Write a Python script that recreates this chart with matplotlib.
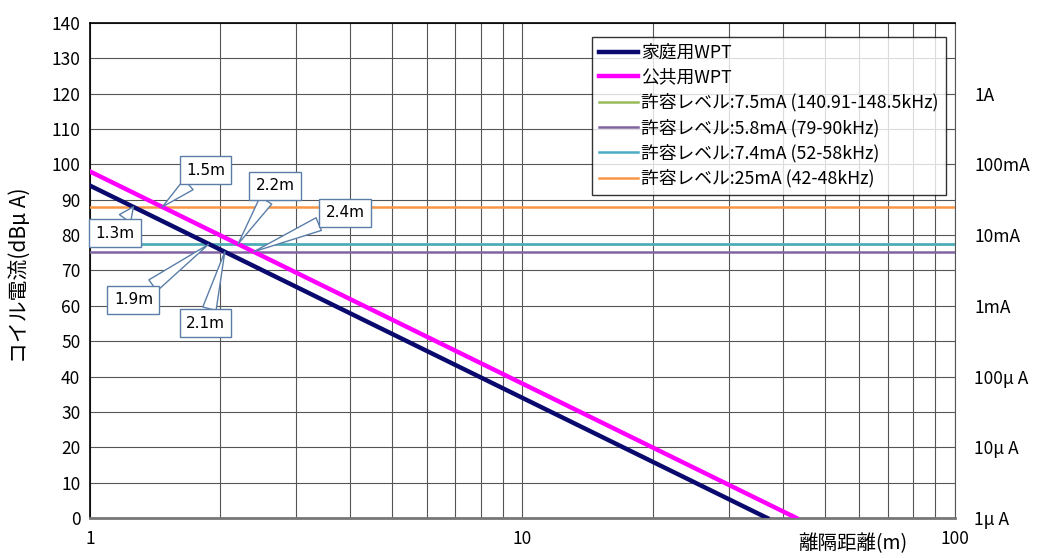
import numpy as np
import matplotlib
matplotlib.use("Agg")
import matplotlib.pyplot as plt
from matplotlib.ticker import FixedLocator, NullFormatter

plt.rcParams['font.family'] = ['Noto Sans CJK JP', 'DejaVu Sans']

# coil current lines (dBuA) vs distance (m): end points
home_d = [1.0, 36.8]
home_db = [94.0, 0.0]
public_d = [1.0, 43.0]
public_db = [98.0, 0.0]

# allowed levels (dBuA)
level_names = ['許容レベル:7.5mA (140.91-148.5kHz)', '許容レベル:5.8mA (79-90kHz)',
               '許容レベル:7.4mA (52-58kHz)', '許容レベル:25mA (42-48kHz)']
level_db = [77.5, 75.3, 77.4, 88.0]
level_colors = ['#9bbb59', '#8064a2', '#4bacc6', '#f79646']

# callouts: label, point (d, dB), box position (d, dB)
call_labels = ['1.5m', '2.2m', '2.4m', '1.3m', '1.9m', '2.1m']
call_pts = [(1.47, 88.0), (2.2, 77.5), (2.39, 75.3), (1.26, 88.0), (1.88, 77.4), (2.05, 75.3)]
call_box = [(1.85, 98.4), (2.68, 93.9), (3.89, 86.3), (1.14, 80.6), (1.26, 61.7), (1.85, 55.1)]

right_vals = [0, 20, 40, 60, 80, 100, 120]
right_labels = ['1μ A', '10μ A', '100μ A', '1mA', '10mA', '100mA', '1A']

fig = plt.figure(figsize=(10.37, 5.58), dpi=100)
ax = fig.add_axes([0.0868, 0.0717, 0.834, 0.8871])

ax.set_xscale('log')
ax.set_xlim(1, 100)
ax.set_ylim(0, 140)
ax.set_yticks(np.arange(0, 141, 10))
ax.xaxis.set_major_locator(FixedLocator([1, 10, 100]))
ax.set_xticklabels(['1', '10', '100'])
ax.xaxis.set_minor_locator(FixedLocator([k * m for m in (1, 10) for k in range(2, 10)]))
ax.xaxis.set_minor_formatter(NullFormatter())
ax.grid(True, which='both', axis='x', color='#555555', lw=0.8)
ax.grid(True, which='major', axis='y', color='#555555', lw=0.8)
ax.tick_params(which='both', length=0, labelsize=12.5, pad=7)
ax.tick_params(axis='x', pad=9)
for s in ['top', 'left']:
    ax.spines[s].set_color('black')
    ax.spines[s].set_linewidth(1.2)
ax.spines['right'].set_color('#555555')
ax.spines['right'].set_linewidth(0.8)
ax.spines['bottom'].set_color('#777777')
ax.spines['bottom'].set_linewidth(2.0)

ax.plot(home_d, home_db, color='#0a0a6e', lw=3.2, label='家庭用WPT', zorder=4)
ax.plot(public_d, public_db, color='#ff00ff', lw=3.2, label='公共用WPT', zorder=4)
for name, v, c in zip(level_names, level_db, level_colors):
    ax.axhline(v, color=c, lw=1.8, label=name, zorder=3)

for lab, pt, bx in zip(call_labels, call_pts, call_box):
    ax.annotate(lab, xy=pt, xytext=bx, ha='center', va='center', fontsize=11,
                family=['DejaVu Sans'], zorder=6,
                bbox=dict(boxstyle='square,pad=0.42', fc='white', ec='#5a7ea8', lw=1.0),
                arrowprops=dict(arrowstyle='wedge,tail_width=0.9', fc='white',
                                ec='#5a7ea8', lw=1.0, shrinkA=0, shrinkB=0))

ax.set_ylabel('コイル電流(dBμ A)', fontsize=15)
ax.yaxis.set_label_coords(-0.068, 0.49)
ax.set_xlabel('離隔距離(m)', fontsize=14)
ax.xaxis.set_label_coords(0.882, -0.03)

leg = ax.legend(loc='upper right', bbox_to_anchor=(1.0, 0.99), fontsize=12.8,
                frameon=True, fancybox=False, edgecolor='black', handlelength=2.2,
                handletextpad=0.2, labelspacing=0.38, borderpad=0.4)
leg.get_frame().set_linewidth(1.0)
leg.set_zorder(7)

ax2 = ax.twinx()
ax2.set_ylim(0, 140)
ax2.set_yticks(right_vals)
ax2.set_yticklabels(right_labels)
ax2.tick_params(length=0, labelsize=12.5, pad=14)
for s in ax2.spines.values():
    s.set_visible(False)

fig.savefig('out.png', dpi=100)
